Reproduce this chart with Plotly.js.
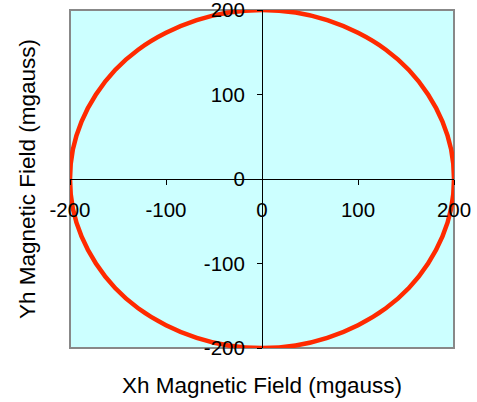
<!DOCTYPE html>
<html>
<head>
<meta charset="utf-8">
<script src="https://cdn.plot.ly/plotly-3.0.1.min.js"></script>
<style>html,body{margin:0;padding:0;background:#fff;}#chart{width:477px;height:402px;}</style>
</head>
<body>
<div id="chart"></div>
<script>
// Heading-compensated magnetic field readings (mgauss)
var xh = [200,197,188,173,153,129,100,68,35,0,-35,-68,-100,-129,-153,-173,-188,-197,-200,-197,-188,-173,-153,-129,-100,-68,-35,0,35,68,100,129,153,173,188,197,200];
var yh = [0,35,68,100,129,153,173,188,197,200,197,188,173,153,129,100,68,35,0,-35,-68,-100,-129,-153,-173,-188,-197,-200,-197,-188,-173,-153,-129,-100,-68,-35,0];
var tickVals = [-200,-100,0,100,200];
var tickText = ['-200','-100','0','100','200'];

var trace = {
  x: xh, y: yh, type: 'scatter', mode: 'lines',
  line: {color: '#ff2a00', width: 4.5, shape: 'spline'},
  cliponaxis: false, hoverinfo: 'skip'
};
var font = {family: 'Liberation Sans, Arial, sans-serif', size: 20.5, color: '#000'};
var titleFont = {family: 'Liberation Sans, Arial, sans-serif', size: 22.5, color: '#000'};
var layout = {
  width: 477, height: 402,
  margin: {l: 70, r: 23, t: 10, b: 54},
  paper_bgcolor: '#ffffff',
  plot_bgcolor: '#ccffff',
  showlegend: false,
  font: font,
  xaxis: {
    range: [-200, 200], domain: [0, 1], anchor: 'free', position: 0.5,
    tickvals: tickVals, ticktext: tickText,
    showline: true, linecolor: '#000', linewidth: 1,
    ticks: 'outside', ticklen: 5, tickcolor: '#000', tickwidth: 1,
    ticklabelstandoff: 7, ticklabeloverflow: 'allow',
    showgrid: false, zeroline: false, fixedrange: true,
    tickfont: font
  },
  yaxis: {
    range: [-200, 200], domain: [0, 1], anchor: 'free', position: 0.5,
    tickvals: tickVals, ticktext: tickText,
    showline: true, linecolor: '#000', linewidth: 1,
    ticks: 'outside', ticklen: 5, tickcolor: '#000', tickwidth: 1,
    ticklabelstandoff: 8, ticklabeloverflow: 'allow',
    showgrid: false, zeroline: false, fixedrange: true,
    tickfont: font
  },
  shapes: [{
    type: 'rect', xref: 'paper', yref: 'paper', x0: 0, x1: 1, y0: 0, y1: 1,
    line: {color: '#888888', width: 2}, layer: 'below'
  }],
  annotations: [
    {text: 'Xh Magnetic Field (mgauss)', xref: 'paper', yref: 'paper', x: 0.5, y: 0,
     yshift: -37, xanchor: 'center', yanchor: 'middle', showarrow: false,
     font: titleFont},
    {text: 'Yh Magnetic Field (mgauss)', xref: 'paper', yref: 'paper', x: 0, y: 0.5,
     xshift: -43, textangle: -90, xanchor: 'center', yanchor: 'middle', showarrow: false,
     font: titleFont}
  ]
};
Plotly.newPlot('chart', [trace], layout, {displayModeBar: false, staticPlot: true});
</script>
</body>
</html>
